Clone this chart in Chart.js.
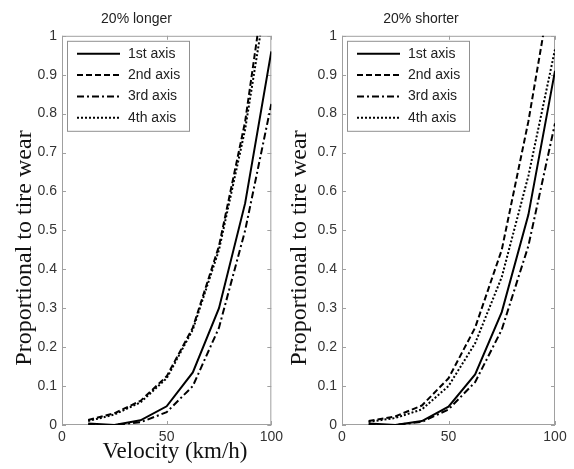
<!DOCTYPE html>
<html>
<head>
<meta charset="utf-8">
<script src="https://cdn.jsdelivr.net/npm/chart.js@4"></script>
<style>
body { margin: 0; background: #fff; }
#wrap { position: relative; width: 574px; height: 469px; }
canvas { position: absolute; top: 0; }
</style>
</head>
<body>
<div id="wrap">
  <canvas id="chartLonger" width="287" height="469" style="left:0"></canvas>
  <canvas id="chartShorter" width="287" height="469" style="left:287px"></canvas>
</div>
<script>
// data
const velocity = [12.5, 25, 37.5, 50, 62.5, 75, 87.5, 100];
const seriesNames = ['1st axis', '2nd axis', '3rd axis', '4th axis'];

const longer1st = [0.004, 0.0, 0.012, 0.048, 0.135, 0.30, 0.57, 0.96];
const longer2nd = [0.013, 0.03, 0.062, 0.125, 0.25, 0.46, 0.78, 1.25];
const longer3rd = [0.0, 0.0, 0.007, 0.033, 0.10, 0.25, 0.50, 0.825];
const longer4th = [0.010, 0.027, 0.058, 0.12, 0.245, 0.45, 0.76, 1.18];

const shorter1st = [0.004, 0.0, 0.010, 0.047, 0.13, 0.29, 0.54, 0.91];
const shorter2nd = [0.010, 0.022, 0.05, 0.12, 0.25, 0.45, 0.78, 1.18];
const shorter3rd = [0.0, 0.0, 0.008, 0.04, 0.11, 0.245, 0.46, 0.775];
const shorter4th = [0.008, 0.018, 0.04, 0.10, 0.21, 0.38, 0.64, 0.965];

const yTicks = [0, 0.1, 0.2, 0.3, 0.4, 0.5, 0.6, 0.7, 0.8, 0.9, 1];
const xTicks = [0, 50, 100];

const dashes = [[], [6, 3], [7, 3, 2, 3], [2, 2]];
const sans = 'Liberation Sans, Arial, sans-serif';
const serif = 'Liberation Serif, Times New Roman, serif';

// box round the plot with matlab style inward ticks
const frame = {
    id: 'frame',
    beforeDatasetsDraw(chart) {
        const { ctx, chartArea: a, scales: { x, y } } = chart;
        ctx.save();
        ctx.strokeStyle = '#a0a0a0';
        ctx.lineWidth = 1;
        ctx.strokeRect(a.left + 0.5, a.top + 0.5, a.width - 1, a.height - 1);
        ctx.beginPath();
        y.ticks.forEach(t => {
            const py = Math.round(y.getPixelForValue(t.value)) + 0.5;
            ctx.moveTo(a.left, py); ctx.lineTo(a.left + 4, py);
            ctx.moveTo(a.right, py); ctx.lineTo(a.right - 4, py);
        });
        x.ticks.forEach(t => {
            const px = Math.round(x.getPixelForValue(t.value)) + 0.5;
            ctx.moveTo(px, a.bottom); ctx.lineTo(px, a.bottom - 4);
            ctx.moveTo(px, a.top); ctx.lineTo(px, a.top + 4);
        });
        ctx.stroke();
        ctx.restore();
    }
};

// legend box drawn inside the plot, top left
const boxLegend = {
    id: 'boxLegend',
    afterDatasetsDraw(chart) {
        const { ctx, chartArea: a } = chart;
        const bx = a.left + 5, by = a.top + 5, bw = 122, bh = 90;
        ctx.save();
        ctx.fillStyle = '#fff';
        ctx.fillRect(bx, by, bw, bh);
        ctx.strokeStyle = '#909090';
        ctx.lineWidth = 1;
        ctx.strokeRect(bx + 0.5, by + 0.5, bw, bh);
        ctx.font = '14px ' + sans;
        ctx.textBaseline = 'middle';
        ctx.fillStyle = '#222';
        chart.data.datasets.forEach((ds, i) => {
            const ry = by + 13 + i * 21.3;
            ctx.beginPath();
            ctx.setLineDash(ds.borderDash);
            ctx.strokeStyle = '#000';
            ctx.lineWidth = 2;
            ctx.moveTo(bx + 10, ry);
            ctx.lineTo(bx + 53, ry);
            ctx.stroke();
            ctx.setLineDash([]);
            ctx.fillText(ds.label, bx + 61, ry);
        });
        ctx.restore();
    }
};

// axis titles, placed like the original (a bit off the plot centre)
const axisTitles = {
    id: 'axisTitles',
    afterDraw(chart) {
        const o = chart.options.plugins.axisTitles;
        const { ctx } = chart;
        ctx.save();
        ctx.fillStyle = '#111';
        ctx.textAlign = 'center';
        ctx.textBaseline = 'middle';
        ctx.font = '24px ' + serif;
        ctx.translate(o.yX, 248);
        ctx.rotate(-Math.PI / 2);
        ctx.fillText('Proportional to tire wear', 0, 0);
        ctx.restore();
        if (o.xTitle) {
            ctx.save();
            ctx.fillStyle = '#111';
            ctx.textAlign = 'center';
            ctx.textBaseline = 'middle';
            ctx.font = '23px ' + serif;
            ctx.fillText(o.xTitle, 175, 452);
            ctx.restore();
        }
    }
};

function makeChart(id, title, series, opts) {
    const datasets = series.map((vals, i) => ({
        label: seriesNames[i],
        data: velocity.map((v, j) => ({ x: v, y: vals[j] })),
        borderColor: '#000',
        borderWidth: 2,
        borderDash: dashes[i],
        pointRadius: 0,
        tension: 0,
        fill: false
    }));

    return new Chart(document.getElementById(id), {
        type: 'line',
        data: { datasets: datasets },
        plugins: [frame, boxLegend, axisTitles],
        options: {
            responsive: false,
            animation: false,
            layout: { padding: { left: 0, right: opts.rightPad, top: 0, bottom: 0 } },
            plugins: {
                legend: { display: false },
                tooltip: { enabled: false },
                axisTitles: { yX: opts.yTitleX, xTitle: opts.xTitle },
                title: {
                    display: true,
                    text: title,
                    color: '#222',
                    font: { family: sans, size: 14, weight: 'normal' },
                    padding: { top: 11, bottom: 8 }
                }
            },
            scales: {
                x: {
                    type: 'linear',
                    min: 0,
                    max: 100,
                    afterBuildTicks: s => { s.ticks = xTicks.map(v => ({ value: v })); },
                    afterFit: s => { s.height = 44; },
                    grid: { display: false, drawTicks: false },
                    border: { display: false },
                    ticks: {
                        color: '#333', padding: 4, maxRotation: 0,
                        font: { family: sans, size: 14 },
                        callback: v => String(v)
                    }
                },
                y: {
                    min: 0,
                    max: 1,
                    afterBuildTicks: s => { s.ticks = yTicks.map(v => ({ value: v })); },
                    afterFit: s => { s.width = opts.yWidth; },
                    grid: { display: false, drawTicks: false },
                    border: { display: false },
                    ticks: {
                        color: '#333', padding: 5,
                        font: { family: sans, size: 14 },
                        callback: v => String(Math.round(v * 10) / 10)
                    }
                }
            }
        }
    });
}

makeChart('chartLonger', '20% longer', [longer1st, longer2nd, longer3rd, longer4th],
    { rightPad: 14, yWidth: 62, yTitleX: 25, xTitle: 'Velocity (km/h)' });
makeChart('chartShorter', '20% shorter', [shorter1st, shorter2nd, shorter3rd, shorter4th],
    { rightPad: 19, yWidth: 55, yTitleX: 13, xTitle: null });
</script>
</body>
</html>
